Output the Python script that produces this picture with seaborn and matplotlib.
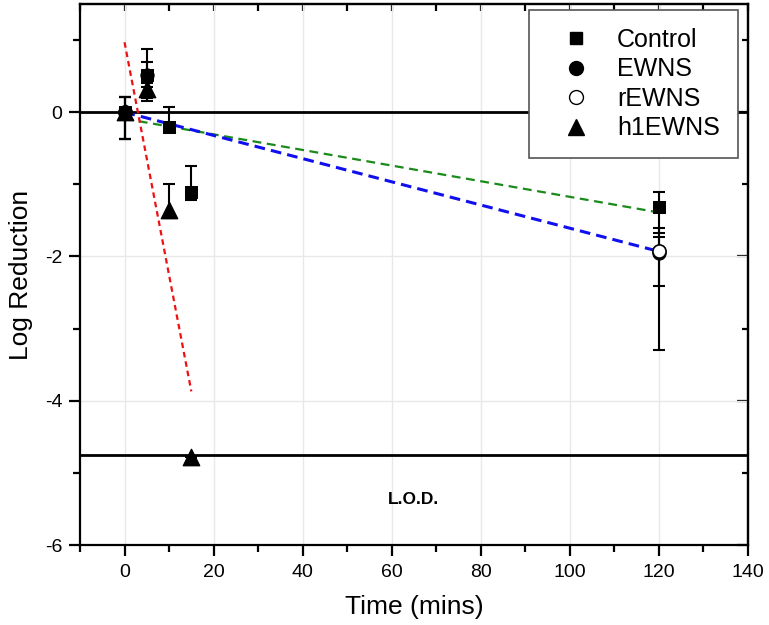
import matplotlib
matplotlib.use("Agg")
import matplotlib.pyplot as plt
import seaborn as sns
import numpy as np
import pandas as pd
from matplotlib.lines import Line2D

# ---- data ----
control_t = [0, 5, 10, 15, 120]
control_y = [0.0, 0.52, -0.20, -1.11, -1.32]
control_lo = [0.37, 0.36, 0.05, 0.11, 0.35]
control_hi = [0.21, 0.36, 0.27, 0.37, 0.22]

ewns_t = [0, 5, 120]
ewns_y = [0.0, 0.52, -1.95]
ewns_lo = [0.37, 0.17, 1.34]
ewns_hi = [0.21, 0.17, 0.22]

rewns_t = [0, 120]
rewns_y = [0.0, -1.93]
rewns_lo = [0.37, 0.48]
rewns_hi = [0.21, 0.32]

h1_t = [0, 5, 10, 15]
h1_y = [0.0, 0.32, -1.35, -4.78]
h1_lo = [0.37, 0.12, 0.12, 0.0]
h1_hi = [0.21, 0.09, 0.36, 0.0]

fit_red_t = [0, 15]
fit_red_y = [0.97, -3.87]
fit_green_t = [0, 120]
fit_green_y = [-0.09, -1.39]
fit_blue_t = [0, 120]
fit_blue_y = [0.0, -1.93]

lod_level = -4.75
zero_level = 0.0

sns.set_theme(style="ticks")
plt.rcParams['font.family'] = ['Liberation Sans', 'DejaVu Sans']
plt.rcParams['axes.unicode_minus'] = False
plt.rcParams['text.color'] = 'black'
plt.rcParams['axes.labelcolor'] = 'black'
plt.rcParams['xtick.color'] = 'black'
plt.rcParams['ytick.color'] = 'black'

fig = plt.figure(figsize=(7.69, 6.25), dpi=100)
ax = fig.add_axes([0.104, 0.128, 0.8687, 0.8656])

ax.set_xlim(-10, 140)
ax.set_ylim(-6, 1.5)
ax.set_xticks(np.arange(0, 141, 20))
ax.set_xticks(np.arange(-10, 141, 10), minor=True)
ax.set_yticks([-6, -4, -2, 0])
ax.set_yticks(np.arange(-6, 1.6, 1), minor=True)
ax.grid(True, which='major', color='#e8e8e8', linewidth=1.0)
ax.set_axisbelow(True)

ax.axhline(zero_level, color='black', lw=2.0, zorder=2)
ax.axhline(lod_level, color='black', lw=2.0, zorder=2)

# fit lines
sns.lineplot(x=fit_green_t, y=fit_green_y, ax=ax, color='#1a8a1a', lw=1.6,
             linestyle=(0, (4, 2.5)), zorder=3)
sns.lineplot(x=fit_blue_t, y=fit_blue_y, ax=ax, color='#1010ee', lw=2.2,
             linestyle=(0, (3.5, 2)), zorder=3)
sns.lineplot(x=fit_red_t, y=fit_red_y, ax=ax, color='#ee1111', lw=1.6,
             linestyle=(0, (2.5, 1.8)), zorder=3)

# error bars
for t, y, lo, hi in [(control_t, control_y, control_lo, control_hi),
                     (ewns_t, ewns_y, ewns_lo, ewns_hi),
                     (rewns_t, rewns_y, rewns_lo, rewns_hi),
                     (h1_t, h1_y, h1_lo, h1_hi)]:
    ax.errorbar(t, y, yerr=[lo, hi], fmt='none', ecolor='black', elinewidth=1.5,
                capsize=4, capthick=1.5, zorder=4)

# markers
sns.scatterplot(x=ewns_t, y=ewns_y, ax=ax, marker='o', s=90, color='black',
                edgecolor='black', zorder=5)
sns.scatterplot(x=rewns_t, y=rewns_y, ax=ax, marker='o', s=90, color='white',
                edgecolor='black', linewidth=1.2, zorder=6)
sns.scatterplot(x=control_t, y=control_y, ax=ax, marker='s', s=85, color='black',
                edgecolor='black', zorder=6)
sns.scatterplot(x=h1_t, y=h1_y, ax=ax, marker='^', s=140, color='black',
                edgecolor='black', zorder=7)

ax.text(64.9, -5.375, 'L.O.D.', fontsize=12.5, fontweight='bold', ha='center', va='center')

ax.set_xlabel('Time (mins)', fontsize=19, labelpad=10)
ax.set_ylabel('Log Reduction', fontsize=19, labelpad=8.5)

for side in ['left', 'bottom', 'right', 'top']:
    ax.spines[side].set_visible(True)
    ax.spines[side].set_linewidth(1.6)
    ax.spines[side].set_color('black')

ax.tick_params(axis='both', which='major', direction='out', length=8, width=1.6,
               labelsize=14, pad=4.5)
ax.tick_params(axis='x', which='major', pad=6)
ax.tick_params(axis='both', which='minor', direction='out', length=5, width=1.6)

# mirrored inward ticks on top/right
axt = ax.secondary_xaxis('top')
axt.set_xticks(np.arange(0, 141, 20))
axt.set_xticks(np.arange(-10, 141, 10), minor=True)
axt.tick_params(which='both', direction='in', labeltop=False, width=1.6, length=5)
axt.set_xticklabels([])
axr = ax.secondary_yaxis('right')
axr.set_yticks([-6, -4, -2, 0])
axr.set_yticks(np.arange(-6, 1.6, 1), minor=True)
axr.tick_params(which='both', direction='in', width=1.6)
axr.tick_params(which='major', length=8)
axr.tick_params(which='minor', length=4)
axr.set_yticklabels([])
for sp in axt.spines.values():
    sp.set_linewidth(1.6)
for sp in axr.spines.values():
    sp.set_linewidth(1.6)

handles = [
    Line2D([], [], marker='s', color='black', linestyle='none', markersize=9),
    Line2D([], [], marker='o', color='black', linestyle='none', markersize=10),
    Line2D([], [], marker='o', markerfacecolor='white', markeredgecolor='black',
           linestyle='none', markersize=10, markeredgewidth=1.0),
    Line2D([], [], marker='^', color='black', linestyle='none', markersize=11),
]
labels = ['Control', 'EWNS', 'rEWNS', 'h1EWNS']
leg = ax.legend(handles, labels, loc='upper right', bbox_to_anchor=(0.985, 0.989),
                borderaxespad=0, fontsize=18, frameon=True, fancybox=False,
                edgecolor='#555555', framealpha=1, labelspacing=0.22,
                handletextpad=0.5, borderpad=0.72, handlelength=2.3)
leg.get_frame().set_linewidth(1.2)
leg.set_zorder(10)

fig.savefig('out.png', dpi=100)
